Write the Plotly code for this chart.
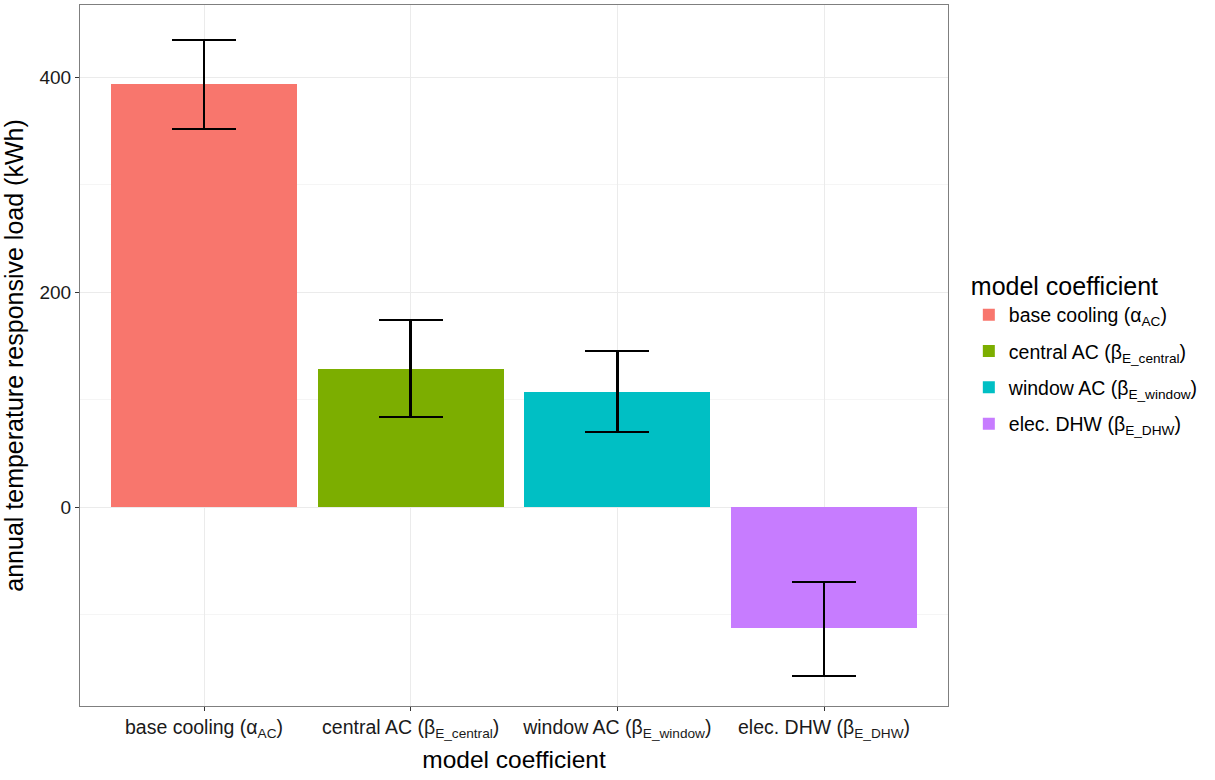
import plotly.graph_objects as go

categories = ["base cooling (α<sub>AC</sub>)", "central AC (β<sub>E_central</sub>)",
              "window AC (β<sub>E_window</sub>)", "elec. DHW (β<sub>E_DHW</sub>)"]
values = [393.5, 128.5, 107.0, -112.5]
err_hi = [434.5, 174.0, 145.0, -69.8]
err_lo = [351.6, 83.7, 69.8, -157.2]
colors = ["#F8766D", "#7CAE00", "#00BFC4", "#C77CFF"]

fig = go.Figure()
for i, c in enumerate(categories):
    fig.add_trace(go.Bar(
        x=[i], y=[values[i]], name=c, legendgroup=str(i),
        marker=dict(color=colors[i], line=dict(width=0)),
        width=0.9,
        error_y=dict(type="data", symmetric=False,
                     array=[err_hi[i] - values[i]], arrayminus=[values[i] - err_lo[i]],
                     color="black", thickness=2.5, width=32),
    ))

fig.update_layout(
    width=1215, height=780,
    margin=dict(l=80, r=267, t=5, b=74),
    paper_bgcolor="white", plot_bgcolor="white",
    font=dict(family="Liberation Sans, Arial, sans-serif", color="black"),
    bargap=0,
    legend=dict(title=dict(text="model coefficient", font=dict(size=25)),
                font=dict(size=19.5), x=1.024, xanchor="left", y=0.632, yanchor="top",
                traceorder="grouped", tracegroupgap=8, itemsizing="constant",
                itemwidth=30),
    xaxis=dict(tickmode="array", tickvals=list(range(4)), ticktext=categories,
               range=[-0.6, 3.6], showgrid=True, gridcolor="#ebebeb",
               showline=True, linecolor="#7f7f7f", mirror=True, linewidth=1,
               ticks="outside", ticklen=4, tickcolor="#333333",
               tickfont=dict(size=19.5, color="#1a1a1a"),
               title=dict(text="model coefficient", font=dict(size=24.5), standoff=10),
               zeroline=False, automargin=False),
    yaxis=dict(range=[-185, 467], tickvals=[0, 200, 400], showgrid=True, gridcolor="#ebebeb",
               minor=dict(tickvals=[-100, 100, 300], showgrid=True, gridcolor="#f5f5f5"),
               showline=True, linecolor="#7f7f7f", mirror=True, linewidth=1,
               ticks="outside", ticklen=4, tickcolor="#333333",
               tickfont=dict(size=19, color="#1a1a1a"),
               title=dict(text="annual temperature responsive load (kWh)", font=dict(size=25), standoff=8),
               zeroline=False, automargin=False),
)

fig.write_html("out.html", config={"displayModeBar": False},
               post_script="document.body.style.margin='0px';")
